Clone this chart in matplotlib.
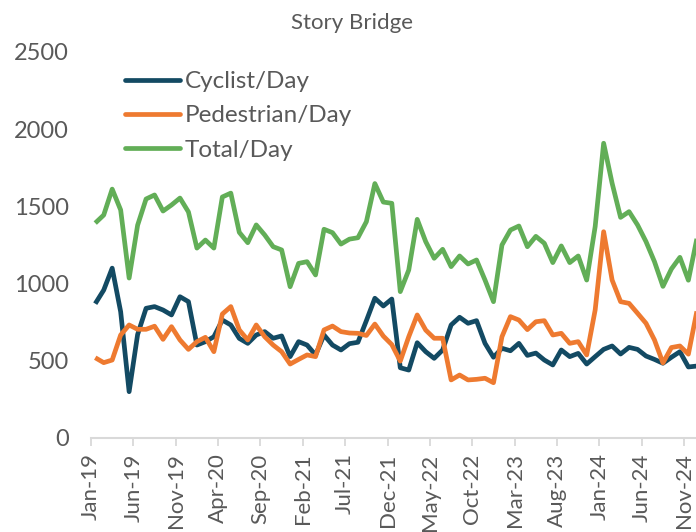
import matplotlib
matplotlib.use("Agg")
import matplotlib.pyplot as plt
import numpy as np

plt.rcParams['font.family'] = ['Lato', 'DejaVu Sans']

title = "Story Bridge"
series_names = ["Cyclist/Day", "Pedestrian/Day", "Total/Day"]

# Monthly values, Jan-19 .. Dec-24
cyclist = [870, 958, 1100, 818, 300, 670, 840, 851, 829, 797, 915, 883,
           602, 624, 656, 764, 732, 645, 613, 667, 689, 646, 661, 527,
           624, 602, 538, 667, 602, 570, 611, 620, 760, 905, 855, 900,
           455, 440, 617, 559, 516, 570, 732, 782, 743, 760, 613, 523,
           581, 565, 613, 535, 550, 505, 473, 570, 527, 548, 479, 527,
           574, 596, 544, 587, 574, 531, 509, 484, 523, 559, 460, 466]
pedestrian = [520, 488, 505, 667, 732, 704, 704, 724, 639, 721, 635, 574,
              624, 652, 559, 803, 851, 700, 635, 732, 656, 602, 559, 479,
              509, 538, 527, 700, 725, 689, 680, 678, 664, 738, 660, 605,
              498, 656, 797, 699, 646, 646, 376, 408, 376, 380, 387, 358,
              656, 786, 764, 702, 753, 760, 667, 678, 613, 624, 538, 829,
              1336, 1023, 883, 872, 808, 743, 635, 486, 586, 596, 543, 820]
total = [1392, 1444, 1612, 1477, 1036, 1378, 1548, 1574, 1470, 1509, 1554, 1464,
         1230, 1282, 1230, 1561, 1586, 1332, 1265, 1380, 1315, 1239, 1218, 980,
         1131, 1142, 1056, 1352, 1330, 1256, 1288, 1297, 1401, 1648, 1528, 1520,
         948, 1088, 1416, 1272, 1164, 1222, 1110, 1179, 1127, 1153, 1023, 883,
         1250, 1347, 1373, 1239, 1306, 1261, 1136, 1244, 1136, 1179, 1023, 1369,
         1909, 1650, 1429, 1466, 1380, 1272, 1142, 982, 1095, 1170, 1022, 1290]

tick_labels = ["Jan-19", "Jun-19", "Nov-19", "Apr-20", "Sep-20", "Feb-21", "Jul-21",
               "Dec-21", "May-22", "Oct-22", "Mar-23", "Aug-23", "Jan-24", "Jun-24",
               "Nov-24"]
y_ticks = [0, 500, 1000, 1500, 2000, 2500]

colors = ["#134A63", "#EE7A30", "#62AE57"]
grey = "#595959"
axis_grey = "#D9D9D9"

fig = plt.figure(figsize=(6.96, 5.32), dpi=100)
W, H = 696, 532
ax_left, ax_right, ax_top, ax_bottom = 91, 696, 52, 438
ax = fig.add_axes([ax_left / W, 1 - ax_bottom / H,
                   (ax_right - ax_left) / W, (ax_bottom - ax_top) / H])

x = np.arange(len(cyclist)) + 0.5
for vals, name, c in zip([cyclist, pedestrian, total], series_names, colors):
    ax.plot(x, vals, color=c, lw=3.4, label=name, solid_joinstyle='round',
            solid_capstyle='butt')

ax.set_xlim(0, 71.4)
ax.set_ylim(0, 2500)
ax.set_yticks(y_ticks)
ax.set_yticklabels([str(v) for v in y_ticks], fontsize=17, color=grey)
ax.tick_params(axis='y', length=0, pad=16)

ax.set_xticks(np.arange(len(tick_labels)) * 5)
ax.set_xticklabels(tick_labels, rotation=90, fontsize=16, color=grey)
ax.tick_params(axis='x', length=6, width=1.3, color=axis_grey, pad=5)

for s in ['top', 'right', 'left']:
    ax.spines[s].set_visible(False)
ax.spines['bottom'].set_color(axis_grey)
ax.spines['bottom'].set_linewidth(1.5)

fig.text(352 / W, 1 - 23 / H, title, ha='center', va='center', fontsize=16, color=grey)

leg = ax.legend(loc='upper left', bbox_to_anchor=(125 / W, 1 - 71 / H),
                bbox_transform=fig.transFigure, frameon=False, fontsize=17.5,
                handlelength=2.25, handletextpad=0.2, labelspacing=0.55,
                borderaxespad=0, borderpad=0)
for t in leg.get_texts():
    t.set_color(grey)
for h in leg.get_lines():
    h.set_linewidth(3.4)
    h.set_solid_capstyle('round')

fig.savefig("out.png", dpi=100)
